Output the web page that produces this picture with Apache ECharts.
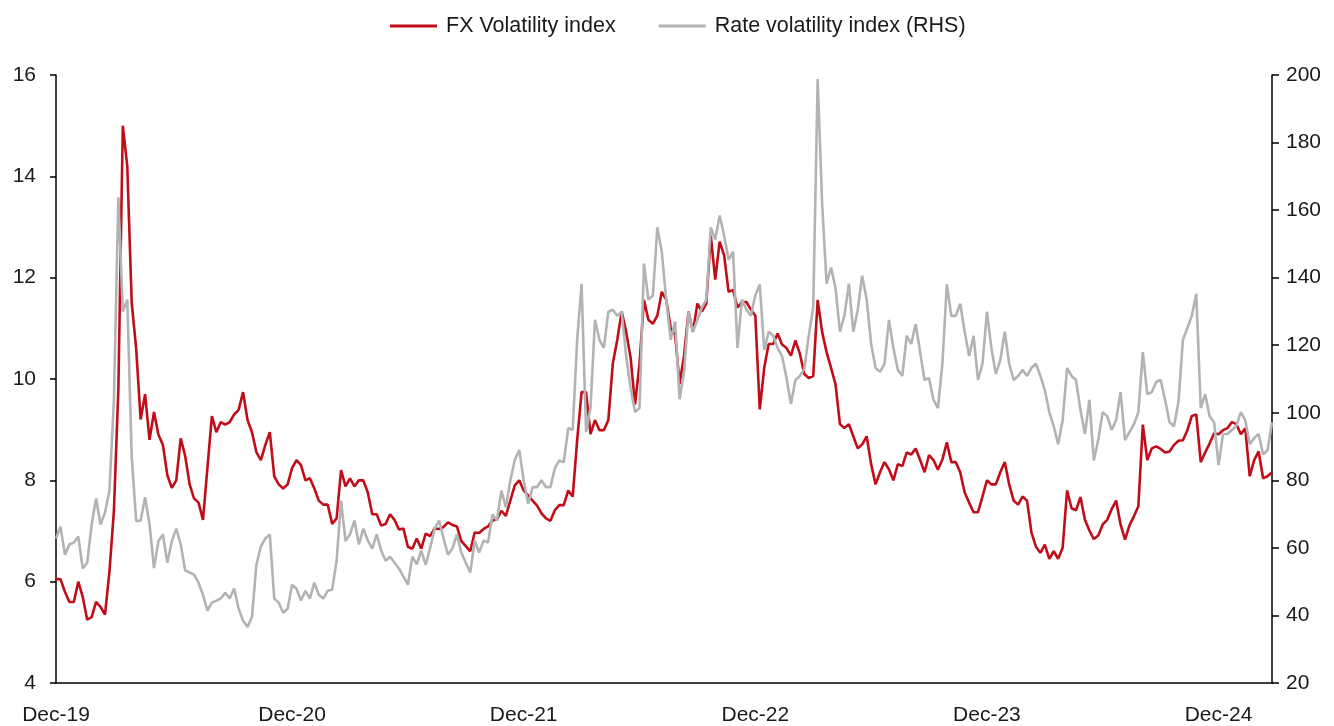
<!DOCTYPE html>
<html>
<head>
<meta charset="utf-8">
<title>FX and rate volatility</title>
<script src="https://cdn.jsdelivr.net/npm/echarts@6/dist/echarts.min.js"></script>
<style>
  html, body { margin: 0; padding: 0; background: #fff; }
  #chart { width: 1334px; height: 726px; }
</style>
</head>
<body>
<div id="chart"></div>
<script>
// Weekly observations, first one on 1 Dec 2019
const startDate = '2019-12-01';

// FX Volatility index (left axis)
const fxVol = [
  6.05, 6.05, 5.8, 5.6, 5.6, 6.0, 5.7, 5.25, 5.3, 5.6,
  5.5, 5.35, 6.2, 7.4, 9.8, 15.0, 14.2, 11.5, 10.6, 9.2,
  9.7, 8.8, 9.35, 8.9, 8.7, 8.1, 7.85, 8.0, 8.83, 8.48,
  7.92, 7.64, 7.56, 7.22, 8.25, 9.27, 8.95, 9.15, 9.1, 9.15,
  9.3, 9.39, 9.74, 9.19, 8.95, 8.55, 8.4, 8.7, 8.95, 8.08,
  7.92, 7.84, 7.92, 8.24, 8.4, 8.3, 8.0, 8.04, 7.84, 7.6,
  7.52, 7.52, 7.14, 7.25, 8.2, 7.88, 8.04, 7.88, 8.0, 8.0,
  7.76, 7.33, 7.33, 7.11, 7.14, 7.33, 7.22, 7.03, 7.05, 6.69,
  6.65, 6.85, 6.65, 6.95, 6.9, 7.05, 7.04, 7.08, 7.17, 7.12,
  7.09, 6.8, 6.7, 6.6, 6.97, 6.96, 7.04, 7.09, 7.21, 7.23,
  7.4, 7.3, 7.6, 7.9, 8.0, 7.8, 7.7, 7.6, 7.5, 7.35,
  7.25, 7.2, 7.41, 7.51, 7.51, 7.8, 7.68, 8.79, 9.74, 9.74,
  8.91, 9.19, 8.99, 8.99, 9.19, 10.3, 10.77, 11.33, 10.93, 10.42,
  9.5, 10.3, 11.56, 11.17, 11.09, 11.25, 11.72, 11.56, 11.01, 10.87,
  9.9, 10.46, 11.33, 10.93, 11.49, 11.33, 11.49, 12.83, 11.96, 12.71,
  12.44, 11.72, 11.76, 11.41, 11.52, 11.52, 11.37, 11.25, 9.4, 10.22,
  10.69, 10.69, 10.9, 10.68, 10.61, 10.46, 10.76, 10.5, 10.1, 10.02,
  10.06, 11.56, 10.93, 10.53, 10.22, 9.9, 9.11, 9.03, 9.11, 8.87,
  8.63, 8.71, 8.87, 8.32, 7.92, 8.16, 8.36, 8.22, 8.0, 8.32,
  8.28, 8.55, 8.51, 8.63, 8.4, 8.16, 8.5, 8.4, 8.21, 8.41,
  8.75, 8.36, 8.36, 8.16, 7.76, 7.56, 7.37, 7.37, 7.68, 8.0,
  7.92, 7.92, 8.16, 8.36, 7.92, 7.6, 7.52, 7.68, 7.6, 6.97,
  6.69, 6.57, 6.73, 6.45, 6.6, 6.45, 6.67, 7.8, 7.45, 7.41,
  7.67, 7.22, 7.01, 6.84, 6.91, 7.13, 7.22, 7.43, 7.6, 7.13,
  6.83, 7.11, 7.29, 7.49, 9.1, 8.4, 8.63, 8.67, 8.62, 8.55,
  8.57, 8.7, 8.78, 8.79, 8.99, 9.27, 9.3, 8.36, 8.55, 8.73,
  8.93, 8.91, 8.99, 9.03, 9.15, 9.11, 8.91, 9.03, 8.08, 8.4,
  8.57, 8.04, 8.08, 8.16
];

// Rate volatility index (right axis)
const rateVol = [
  62.8, 66.3, 58.0, 61.0, 61.6, 63.4, 53.9, 55.6, 66.9, 74.6,
  66.9, 70.5, 77.0, 103.8, 163.8, 130, 133.5, 87, 68, 68,
  75, 67, 54, 62, 64, 55.6, 62, 65.7, 61.0, 53.3,
  52.7, 52.1, 49.7, 46.1, 41.4, 43.8, 44.4, 45.0, 46.7, 45.0,
  48.0, 42.0, 38.4, 36.6, 39.6, 55.1, 60.4, 62.8, 64.0, 45.0,
  43.8, 40.8, 42.0, 49.1, 47.9, 44.4, 47.3, 45.0, 49.7, 46.1,
  45.0, 47.3, 47.7, 56.2, 74, 62, 64.0, 68.1, 61.0, 65.7,
  62.2, 59.8, 64.0, 59.2, 56.2, 57.4, 55.6, 53.9, 51.5, 49.1,
  57.4, 55.1, 59.2, 55, 60, 65.7, 68.1, 62.8, 58.0, 59.8,
  64.0, 58.6, 55.6, 52.7, 62.2, 58.6, 62.2, 61.6, 69.9, 68.1,
  77, 72, 80, 86, 89, 80, 73, 78, 78, 80,
  78, 78, 83.6, 85.9, 85.3, 95.5, 94.9, 121.6, 138.2, 94.3,
  101.4, 127.5, 121.6, 119.2, 129.9, 130.5, 128.7, 129.9, 116.8, 107.3,
  100.2, 101.4, 144.2, 133.5, 134.7, 154.9, 147.7, 133.5, 121.6, 127,
  104, 112.1, 129.9, 124.0, 127.5, 131.1, 133.5, 154.9, 151.3, 158.4,
  152.5, 145.3, 147.7, 119.2, 133.5, 130.5, 128.7, 134.7, 138, 118.6,
  124.0, 122.8, 119.2, 116.8, 110.3, 102.6, 109.7, 110.9, 113, 122.8,
  131.1, 198.8, 162, 138.2, 143.0, 137.0, 124.0, 128.7, 138.2, 124.0,
  130.5, 140.6, 133.5, 120.4, 113.3, 112.1, 114.5, 127.5, 119.2, 112.7,
  110.9, 122.8, 120.4, 126.3, 118.0, 109.7, 110.3, 103.8, 101.4, 114.5,
  138, 128.7, 128.7, 132.3, 124.0, 116.8, 122.8, 109.7, 114.5, 129.9,
  119.2, 111.5, 115.6, 124.0, 114.5, 109.7, 110.9, 112.7, 110.9, 113.3,
  114.5, 110.9, 106.7, 100.2, 96, 90.7, 97.8, 113.3, 110.9, 109.7,
  100.8, 93.7, 103.8, 85.9, 92.1, 100.2, 99.0, 94.9, 97.8, 106.1,
  91.9, 94.3, 96.6, 100.2, 118, 105.5, 106.1, 109.1, 109.7, 103.8,
  97.2, 96, 103.2, 121.6, 125.1, 128.7, 135.2, 101.4, 105.5, 99.0,
  97.2, 84.5, 93.7, 93.7, 94.9, 96.1, 100.2, 97.8, 90.7, 92.5,
  93.7, 87.7, 88.9, 97.2
];

const seriesNames = ['FX Volatility index', 'Rate volatility index (RHS)'];
const monthNames = ['Jan', 'Feb', 'Mar', 'Apr', 'May', 'Jun', 'Jul', 'Aug', 'Sep', 'Oct', 'Nov', 'Dec'];

// weekly date categories
const t0 = Date.parse(startDate + 'T00:00:00Z');
const dates = fxVol.map(function (_, i) {
    return new Date(t0 + i * 7 * 86400000).toISOString().slice(0, 10);
});

const FONT = '"Liberation Sans", Arial, sans-serif';
const TEXT = '#1a1a1a';

const chart = echarts.init(document.getElementById('chart'));

const option = {
    backgroundColor: '#fff',
    animation: false,
    textStyle: { fontFamily: FONT },
    legend: {
        top: 10,
        left: 385,
        icon: 'rect',
        itemWidth: 47,
        itemHeight: 3,
        itemGap: 43,
        textStyle: { fontSize: 21.5, color: TEXT, fontFamily: FONT, padding: [0, 0, 0, 4] },
        data: seriesNames
    },
    grid: {
        left: 56,
        right: 62,
        top: 75,
        bottom: 41,
        containLabel: false
    },
    xAxis: {
        type: 'category',
        boundaryGap: false,
        data: dates,
        axisLine: { lineStyle: { color: '#000', width: 1.5 } },
        axisTick: { show: false },
        splitLine: { show: false },
        axisLabel: {
            margin: 22,
            fontSize: 21,
            color: TEXT,
            fontFamily: FONT,
            interval: function (index, value) {
                return value.slice(5, 7) === '12' && +value.slice(8, 10) <= 7;
            },
            formatter: function (value) {
                return monthNames[+value.slice(5, 7) - 1] + '-' + value.slice(2, 4);
            }
        }
    },
    yAxis: [
        {
            type: 'value',
            position: 'left',
            min: 4,
            max: 16,
            interval: 2,
            axisLine: { show: true, lineStyle: { color: '#000', width: 1.5 } },
            axisTick: { show: true, length: 6, lineStyle: { color: '#000', width: 1.5 } },
            splitLine: { show: false },
            axisLabel: { margin: 20, fontSize: 21, color: TEXT, fontFamily: FONT }
        },
        {
            type: 'value',
            position: 'right',
            min: 20,
            max: 200,
            interval: 20,
            axisLine: { show: true, lineStyle: { color: '#000', width: 1.5 } },
            axisTick: { show: true, length: 7, lineStyle: { color: '#000', width: 1.5 } },
            splitLine: { show: false },
            axisLabel: { margin: 14, fontSize: 21, color: TEXT, fontFamily: FONT }
        }
    ],
    series: [
        {
            name: seriesNames[0],
            type: 'line',
            yAxisIndex: 0,
            data: fxVol,
            symbol: 'none',
            color: '#C00D17',
            lineStyle: { width: 2.6, color: '#C00D17' }
        },
        {
            name: seriesNames[1],
            type: 'line',
            yAxisIndex: 1,
            data: rateVol,
            symbol: 'none',
            color: '#B3B3B3',
            lineStyle: { width: 2.6, color: '#B3B3B3' }
        }
    ]
};

chart.setOption(option);
</script>
</body>
</html>
